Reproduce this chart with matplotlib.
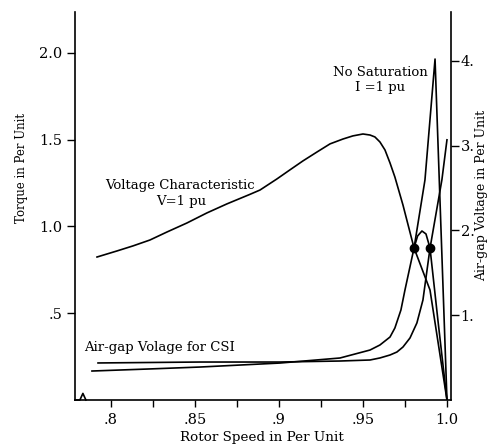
import matplotlib
matplotlib.use("Agg")
from matplotlib import pyplot as plt

# rotor speed / torque readings (left axis)
# voltage source, V = 1 pu
speed_v = [0.7917, 0.8036, 0.8131, 0.8232, 0.8333, 0.8452, 0.8571, 0.8690, 0.8827, 0.8887,
           0.8988, 0.9065, 0.9143, 0.9226, 0.9304, 0.9381, 0.9440, 0.9500, 0.9542, 0.9571,
           0.9601, 0.9631, 0.9661, 0.9690, 0.9738, 0.9804, 0.9899, 1.0]
torque_v = [0.824, 0.859, 0.888, 0.922, 0.968, 1.020, 1.078, 1.130, 1.185, 1.210,
            1.274, 1.326, 1.378, 1.429, 1.476, 1.504, 1.522, 1.533, 1.527, 1.516,
            1.487, 1.441, 1.366, 1.285, 1.124, 0.876, 0.634, 0.0]

# current source, I = 1 pu, no saturation
speed_i = [0.7887, 0.8232, 0.853, 0.9006, 0.9363, 0.9542, 0.9601, 0.9661, 0.9690, 0.9726,
           0.9750, 0.9804, 0.9869, 0.9929, 1.0]
torque_i = [0.167, 0.179, 0.190, 0.213, 0.242, 0.288, 0.317, 0.363, 0.415, 0.519,
            0.634, 0.876, 1.268, 1.965, 0.0]

# current source with saturation (short hump between the two points)
speed_s = [0.9804, 0.9825, 0.9851, 0.9875, 0.9899, 0.9946, 1.0]
torque_s = [0.876, 0.945, 0.974, 0.957, 0.876, 0.461, 0.0]

op_speed = [0.9804, 0.9899]
op_torque = [0.876, 0.876]

# air-gap voltage for CSI (right axis)
speed_e = [0.7923, 0.853, 0.9006, 0.9363, 0.9542, 0.9601, 0.9661, 0.9702, 0.9738, 0.9780,
           0.9821, 0.9857, 0.9899, 0.9970, 1.0]
volt_e = [0.437, 0.448, 0.448, 0.460, 0.472, 0.496, 0.531, 0.566, 0.625, 0.732,
          0.909, 1.18, 1.79, 2.60, 3.07]

x_ticks = [0.8, 0.85, 0.9, 0.95, 1.0]
x_labels = [".8", ".85", ".9", ".95", "1.0"]
x_minor = [0.825, 0.875, 0.925, 0.975]
y_ticks = [0.5, 1.0, 1.5, 2.0]
y_labels = [".5", "1.0", "1.5", "2.0"]
y2_ticks = [1, 2, 3, 4]
y2_labels = ["1.", "2.", "3.", "4."]

plt.rcParams["font.family"] = "DejaVu Serif"

fig = plt.figure(figsize=(4.88, 4.45), dpi=100)
ax = fig.add_axes([75/488, 1 - 400/445, 376/488, 388/445])
ax2 = ax.twinx()

lw = 1.2
ax.plot(speed_v, torque_v, color="black", linewidth=lw)
ax.plot(speed_i, torque_i, color="black", linewidth=lw)
ax.plot(speed_s, torque_s, color="black", linewidth=lw)
ax.plot(op_speed, op_torque, "o", color="black", markersize=6)
ax2.plot(speed_e, volt_e, color="black", linewidth=lw)

ax.set_xlim(0.7786, 1.0024)
ax.set_ylim(0, 2.236)
ax2.set_ylim(0, 4.578)

ax.set_xticks(x_ticks)
ax.set_xticklabels(x_labels)
ax.set_xticks(x_minor, minor=True)
ax.set_yticks(y_ticks)
ax.set_yticklabels(y_labels)
ax2.set_yticks(y2_ticks)
ax2.set_yticklabels(y2_labels)

ax.tick_params(axis="x", which="both", direction="out", length=5, width=1, pad=4, labelsize=10.5)
ax.tick_params(axis="y", direction="out", length=6, width=1, pad=3, labelsize=10.5)
ax2.tick_params(axis="y", direction="out", length=6, width=1, pad=1, labelsize=10.5)

ax.spines["top"].set_visible(False)
ax.spines["right"].set_visible(False)
ax2.spines["top"].set_visible(False)
ax2.spines["left"].set_visible(False)
ax2.spines["bottom"].set_visible(False)
for s in ["left", "bottom"]:
    ax.spines[s].set_linewidth(1.2)
ax2.spines["right"].set_linewidth(1.2)

# little axis break on the speed axis
ax.plot([0.0, 0.013, 0.021, 0.029], [0.0, 0.0, 0.017, 0.0], color="black",
        linewidth=1.2, transform=ax.transAxes, clip_on=False)

# labels
fig.text(262/488, 1 - 437/445, "Rotor Speed in Per Unit", ha="center", va="center", fontsize=9.7)
fig.text(22/488, 1 - 168/445, "Torque in Per Unit", ha="center", va="center", rotation=90, fontsize=8.5)
fig.text(482/488, 1 - 195/445, "Air-gap Voltage in Per Unit", ha="center", va="center", rotation=90, fontsize=9)

fig.text(180/488, 1 - 185/445, "Voltage Characteristic", ha="center", va="center", fontsize=9.5)
fig.text(181/488, 1 - 201/445, "V=1 pu", ha="center", va="center", fontsize=9.5)
fig.text(380/488, 1 - 72/445, "No Saturation", ha="center", va="center", fontsize=9.5)
fig.text(380/488, 1 - 88/445, "I =1 pu", ha="center", va="center", fontsize=9.5)
fig.text(160/488, 1 - 347/445, "Air-gap Volage for CSI", ha="center", va="center", fontsize=9.5)

plt.savefig("out.png", dpi=100)
